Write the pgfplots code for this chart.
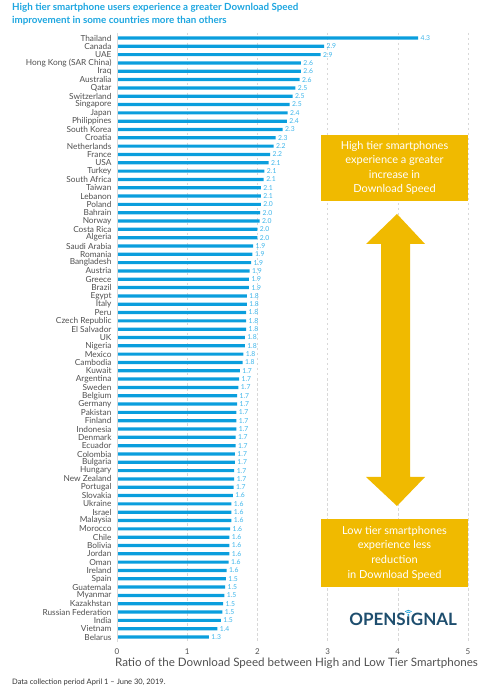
\documentclass[border=0pt]{standalone}
\usepackage{pgfplots}
\usepackage{pgfplotstable}
\pgfplotsset{compat=1.18}
\usepackage{fontspec}
\setmainfont{Lato}
\definecolor{barblue}{HTML}{0A9EDD}
\definecolor{lblblue}{HTML}{3DB5EA}
\definecolor{titleblue}{HTML}{1DA6E0}
\definecolor{ylw}{HTML}{F0BA00}
\definecolor{navy}{HTML}{1E4E6E}
\definecolor{wifi}{HTML}{2AA5DA}
\definecolor{txtgray}{HTML}{505050}
\definecolor{gridgray}{HTML}{D8D8D8}

\pgfplotstableread[col sep=comma]{
country,val,lab
Thailand,4.29,4.3
Canada,2.95,2.9
UAE,2.90,2.9
Hong Kong (SAR China),2.62,2.6
Iraq,2.62,2.6
Australia,2.60,2.6
Qatar,2.54,2.5
Switzerland,2.50,2.5
Singapore,2.46,2.5
Japan,2.43,2.4
Philippines,2.42,2.4
South Korea,2.36,2.3
Croatia,2.26,2.3
Netherlands,2.23,2.2
France,2.18,2.2
USA,2.16,2.1
Turkey,2.10,2.1
South Africa,2.09,2.1
Taiwan,2.05,2.1
Lebanon,2.05,2.1
Poland,2.05,2.0
Bahrain,2.04,2.0
Norway,2.03,2.0
Costa Rica,2.00,2.0
Algeria,2.00,2.0
Saudi Arabia,1.94,1.9
Romania,1.93,1.9
Bangladesh,1.91,1.9
Austria,1.89,1.9
Greece,1.88,1.9
Brazil,1.88,1.9
Egypt,1.85,1.8
Italy,1.85,1.8
Peru,1.84,1.8
Czech Republic,1.84,1.8
El Salvador,1.84,1.8
UK,1.82,1.8
Nigeria,1.82,1.8
Mexico,1.80,1.8
Cambodia,1.79,1.8
Kuwait,1.75,1.7
Argentina,1.74,1.7
Sweden,1.73,1.7
Belgium,1.71,1.7
Germany,1.71,1.7
Pakistan,1.70,1.7
Finland,1.70,1.7
Indonesia,1.70,1.7
Denmark,1.69,1.7
Ecuador,1.69,1.7
Colombia,1.68,1.7
Bulgaria,1.68,1.7
Hungary,1.67,1.7
New Zealand,1.67,1.7
Portugal,1.66,1.7
Slovakia,1.65,1.6
Ukraine,1.63,1.6
Israel,1.63,1.6
Malaysia,1.63,1.6
Morocco,1.61,1.6
Chile,1.60,1.6
Bolivia,1.60,1.6
Jordan,1.60,1.6
Oman,1.59,1.6
Ireland,1.56,1.6
Spain,1.55,1.5
Guatemala,1.54,1.5
Myanmar,1.53,1.5
Kazakhstan,1.51,1.5
Russian Federation,1.50,1.5
India,1.48,1.5
Vietnam,1.43,1.4
Belarus,1.31,1.3
}\data

\begin{document}
\begin{tikzpicture}
\path[use as bounding box] (0,0) rectangle (496pt,700pt);
% title
\node[anchor=north west, align=left, text=titleblue, font=\fontsize{9.8}{13}\selectfont\bfseries, inner sep=0pt]
  at (12pt,697pt) {High tier smartphone users experience a greater Download Speed\\improvement in some countries more than others};
\begin{axis}[
  at={(117pt,58pt)}, anchor=south west,
  scale only axis, width=351pt, height=609pt,
  xmin=0, xmax=5, ymin=-0.6, ymax=72.6, y dir=reverse,
  xbar, bar width=3.2pt,
  axis line style={draw=none},
  major tick length=0pt,
  xtick={0,1,2,3,4,5},
  ytick={0,...,72},
  yticklabels from table={\data}{country},
  yticklabel style={font=\fontsize{8.3}{9}\selectfont, text=txtgray, xshift=-2pt},
  xticklabel style={font=\fontsize{8}{9}\selectfont, text=txtgray, yshift=-3pt},
  /pgf/number format/assume math mode=true,
  xmajorgrids, grid style={gridgray, dash pattern=on 2.5pt off 2.5pt, line width=0.6pt},
  xlabel={Ratio of the Download Speed between High and Low Tier Smartphones},
  xlabel style={font=\fontsize{11.6}{12}\selectfont, text=txtgray, yshift=3pt, xshift=4pt},
  nodes near coords, point meta=explicit symbolic,
  nodes near coords style={font=\fontsize{6.8}{7}\selectfont, text=lblblue, anchor=west, xshift=-1pt},
  clip=false,
]
\addplot[fill=barblue, draw=none] table[x=val, y expr=\coordindex, meta=lab] {\data};
\draw[gridgray, line width=0.7pt] (axis cs:0,-0.6) -- (axis cs:0,72.6);
\end{axis}
% yellow boxes
\fill[ylw] (321pt,565pt) rectangle (468pt,499pt);
\node[text=white, align=center, font=\fontsize{11}{14.6}\selectfont] at (394.5pt,532pt)
  {High tier smartphones\\experience a greater\\increase in\\Download Speed};
\fill[ylw] (321pt,181pt) rectangle (468pt,113pt);
\node[text=white, align=center, font=\fontsize{11}{14.6}\selectfont] at (394.5pt,147pt)
  {Low tier smartphones\\experience less\\reduction\\in Download Speed};
% double arrow
\fill[ylw] (397pt,486pt) -- (425pt,456pt) -- (410pt,456pt) -- (410pt,223pt) -- (425pt,223pt)
  -- (397pt,194pt) -- (366pt,223pt) -- (381pt,223pt) -- (381pt,456pt) -- (366pt,456pt) -- cycle;
% logo
\begin{scope}[font=\fontsize{17}{17}\selectfont\bfseries, inner sep=0pt, text=navy]
\node[anchor=base east] (lA) at (406pt,74pt) {OPENS};
\node[anchor=base west] (lB) at (lA.base east) {\i};
\node[anchor=base west] (lC) at (lB.base east) {GNAL};
\end{scope}
\fill[wifi] ([yshift=2.2pt]lB.north) circle (1.1pt);
\draw[wifi, line width=0.8pt] ([yshift=2.2pt]lB.north) ++(45:2.8pt) arc (45:135:2.8pt);
\draw[wifi, line width=0.8pt] ([yshift=2.2pt]lB.north) ++(45:4.6pt) arc (45:135:4.6pt);
% footnote
\node[anchor=west, text=black!80, font=\fontsize{7.5}{8}\selectfont, inner sep=0pt] at (12pt,18pt)
  {Data collection period April 1 -- June 30, 2019.};
\end{tikzpicture}
\end{document}
